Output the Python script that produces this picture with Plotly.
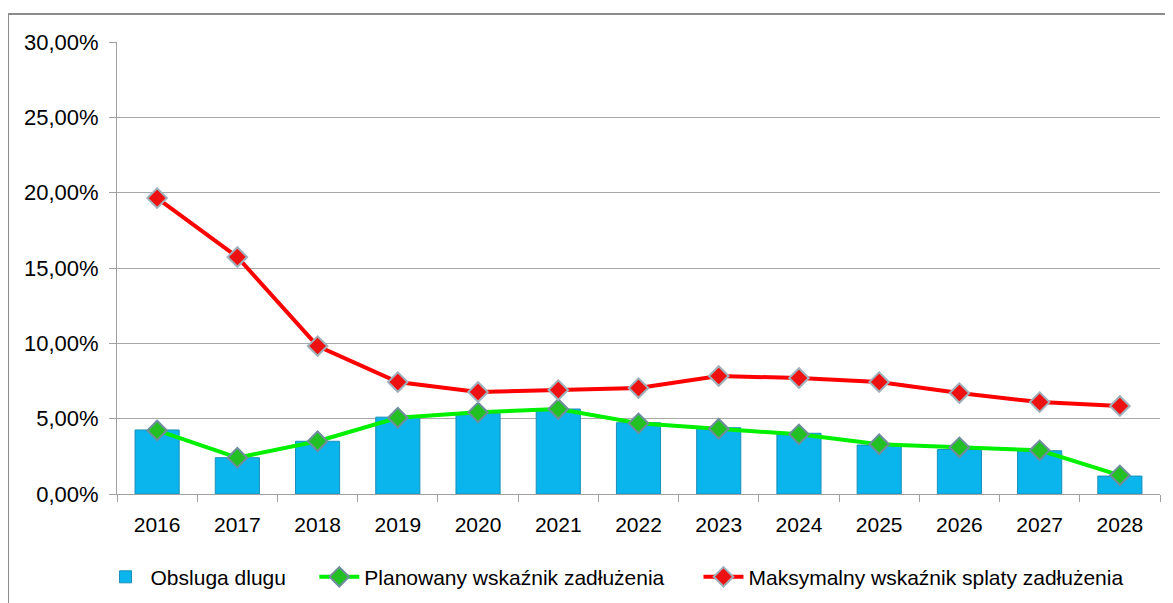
import plotly.graph_objects as go

years = ["2016", "2017", "2018", "2019", "2020", "2021", "2022",
         "2023", "2024", "2025", "2026", "2027", "2028"]
obsluga = [4.25, 2.41, 3.50, 5.10, 5.35, 5.64, 4.73, 4.40, 4.03, 3.25, 2.95, 2.87, 1.19]
planowany = [4.22, 2.41, 3.50, 5.06, 5.42, 5.64, 4.69, 4.33, 3.96, 3.30, 3.10, 2.90, 1.24]
maksymalny = [19.64, 15.73, 9.82, 7.43, 6.77, 6.90, 7.03, 7.83, 7.70, 7.43, 6.70, 6.10, 5.84]
y_ticks = [0, 5, 10, 15, 20, 25, 30]
y_tick_labels = ["0,00%", "5,00%", "10,00%", "15,00%", "20,00%", "25,00%", "30,00%"]
series_names = ["Obsluga dlugu", "Planowany wskaźnik zadłużenia",
                "Maksymalny wskaźnik splaty zadłużenia"]

font_family = "Liberation Sans, Arial, sans-serif"
NB = "\u00a0"

fig = go.Figure()
fig.add_trace(go.Bar(
    x=years, y=obsluga, name=series_names[0] + NB * 4,
    width=0.55,
    marker=dict(color="#0ab4ec", line=dict(color="#1a8fb8", width=1)),
))
fig.add_trace(go.Scatter(
    x=years, y=planowany, name=series_names[1] + NB * 5,
    mode="lines+markers",
    line=dict(color="#00f000", width=4),
    marker=dict(symbol="diamond", size=15, color="#22c022",
                line=dict(color="#6f8e9c", width=2)),
))
fig.add_trace(go.Scatter(
    x=years, y=maksymalny, name=series_names[2],
    mode="lines+markers",
    line=dict(color="#ff0000", width=4),
    marker=dict(symbol="diamond", size=15, color="#ee1111",
                line=dict(color="#9fb0bb", width=2)),
))

# page body has an 8px margin, so offsets compensate for it
fig.update_layout(
    width=1173, height=603,
    margin=dict(l=109, r=21, t=34, b=117, autoexpand=False),
    paper_bgcolor="white", plot_bgcolor="white",
    font=dict(family=font_family, size=21, color="#000000"),
    showlegend=True,
    legend=dict(orientation="h", x=-0.0158, xanchor="left", y=-0.184, yanchor="middle",
                font=dict(size=21, family=font_family), traceorder="normal",
                itemwidth=40, tracegroupgap=0),
    bargap=0.45,
    shapes=[dict(type="rect", xref="paper", yref="paper",
                 x0=-0.1045, x1=1.03, y0=-0.3, y1=1.062,
                 line=dict(color="#8c8c8c", width=2), fillcolor="rgba(0,0,0,0)",
                 layer="below")],
)
fig.update_xaxes(
    type="category", range=[-0.5, 12.5],
    showline=True, linecolor="#a0a0a0", linewidth=1,
    ticks="outside", tickson="boundaries", ticklen=7, tickcolor="#a0a0a0",
    showgrid=False, tickfont=dict(size=21), ticklabelstandoff=12,
)
fig.update_yaxes(
    range=[0, 30], tickvals=y_ticks, ticktext=y_tick_labels,
    showline=True, linecolor="#a0a0a0", linewidth=1,
    ticks="outside", ticklen=7, tickcolor="#a0a0a0",
    showgrid=True, gridcolor="#a8a8a8", gridwidth=1,
    zeroline=False, tickfont=dict(size=22), ticklabelstandoff=6,
)

fig.write_html("out.html")
